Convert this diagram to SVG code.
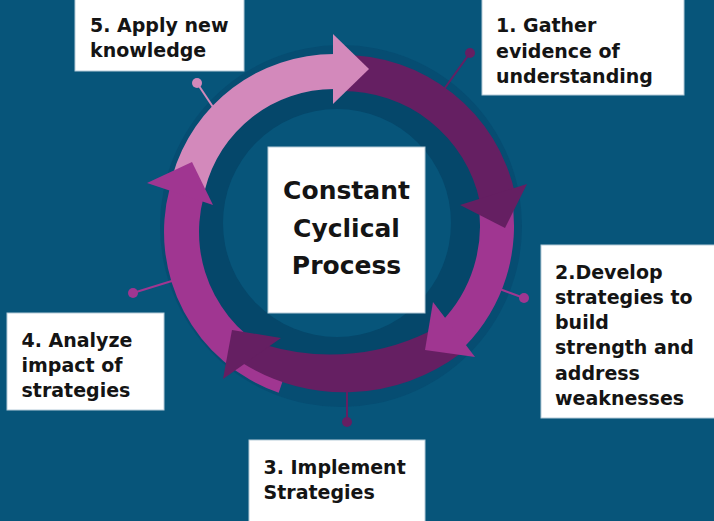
<svg xmlns="http://www.w3.org/2000/svg" width="714" height="521" viewBox="0 0 714 521">
<style>
.box{fill:#ffffff;stroke:#b5cbd8;stroke-width:1}
.lbl{font-family:"DejaVu Sans","Liberation Sans",sans-serif;font-weight:bold;font-size:19px;fill:#141414}
.ctr{font-family:"DejaVu Sans","Liberation Sans",sans-serif;font-weight:bold;font-size:25px;fill:#141414;text-anchor:middle}
.pink{fill:#d389bb}
.dark{fill:#651f62}
.mag{fill:#a03691}
.pin{stroke-width:2;fill:none}
</style>
<rect width="714" height="521" fill="#07557a"/>
<g id="ring-shadow">
<circle cx="341" cy="226" r="181" fill="#064d72"/>
<circle cx="341" cy="226" r="150" fill="#05476a"/>
<circle cx="337" cy="223" r="114" fill="#07557a"/>
</g>
<g id="connectors">
<line class="pin" x1="215" y1="110" x2="197" y2="83" stroke="#d389bb"/><circle cx="197" cy="83" r="5" fill="#d389bb"/>
<line class="pin" x1="442" y1="92" x2="470" y2="53" stroke="#651f62"/><circle cx="470" cy="53" r="5" fill="#651f62"/>
<line class="pin" x1="497" y1="288" x2="524" y2="298" stroke="#a03691"/><circle cx="524" cy="298" r="5" fill="#a03691"/>
<line class="pin" x1="347" y1="390" x2="347" y2="422" stroke="#651f62"/><circle cx="347" cy="422" r="5" fill="#651f62"/>
<line class="pin" x1="175" y1="280" x2="133" y2="293" stroke="#a03691"/><circle cx="133" cy="293" r="5" fill="#a03691"/>
</g>
<g id="cycle-arrows">
<path class="mag" d="M278.7,392.7 A170,170 0 0 1 169.8,188 L203.6,197.1 A135,135 0 0 0 290,359.6 Z"/>
<path class="dark" d="M460.5,353.6 A193,193 0 0 1 242.4,363 L267.3,345.5 A223.5,223.5 0 0 0 436.3,327.7 Z"/>
<path class="pink" d="M172.5,175.7 A168,168 0 0 1 334,54 L334,89 A133,133 0 0 0 204.9,189.8 Z"/>
<path class="dark" d="M339.9,55 A176,176 0 0 1 515.2,194.4 L479.9,201.9 A140,140 0 0 0 340.6,91 Z"/>
<path class="mag" d="M511.4,196.1 A172,172 0 0 1 464.7,346.6 L440.4,322.7 A138,138 0 0 0 477.9,202 Z"/>
<polygon class="pink" points="333,34 369,69 333,104"/>
<polygon class="dark" points="460,205 527,184 505,228"/>
<polygon class="mag" points="433,302 475,357 425,350"/>
<polygon class="dark" points="232,330 281,338 223,379"/>
<polygon class="mag" points="147,183 192,162 213,205"/>
</g>
<g id="node-center">
<rect class="box" x="268" y="147" width="157" height="166"/>
<text class="ctr" x="346.5" y="199">Constant</text>
<text class="ctr" x="346.5" y="236.5">Cyclical</text>
<text class="ctr" x="346.5" y="273.5">Process</text>
</g>
<g id="node-1">
<rect class="box" x="482" y="-1" width="202" height="96"/>
<text class="lbl" x="496" y="32">1. Gather</text>
<text class="lbl" x="496" y="57.5">evidence of</text>
<text class="lbl" x="496" y="83">understanding</text>
</g>
<g id="node-2">
<rect class="box" x="541" y="245" width="174" height="173"/>
<text class="lbl" x="555" y="278.5">2.Develop</text>
<text class="lbl" x="555" y="303.8">strategies to</text>
<text class="lbl" x="555" y="329">build</text>
<text class="lbl" x="555" y="354.3">strength and</text>
<text class="lbl" x="555" y="379.6">address</text>
<text class="lbl" x="555" y="405">weaknesses</text>
</g>
<g id="node-3">
<rect class="box" x="249" y="440" width="176" height="82"/>
<text class="lbl" x="263.5" y="473.5">3. Implement</text>
<text class="lbl" x="263.5" y="498.5">Strategies</text>
</g>
<g id="node-4">
<rect class="box" x="7" y="313" width="157" height="97"/>
<text class="lbl" x="21.5" y="346.7">4. Analyze</text>
<text class="lbl" x="21.5" y="371.7">impact of</text>
<text class="lbl" x="21.5" y="396.7">strategies</text>
</g>
<g id="node-5">
<rect class="box" x="75" y="-1" width="169" height="72"/>
<text class="lbl" x="90" y="31.7">5. Apply new</text>
<text class="lbl" x="90" y="56.7">knowledge</text>
</g>
</svg>
